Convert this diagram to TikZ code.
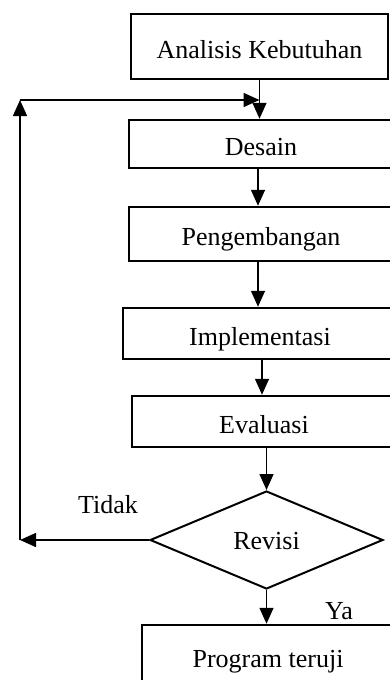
\documentclass[tikz,border=0pt]{standalone}
\usepackage{fontspec}
\setmainfont{Liberation Serif}
\usetikzlibrary{shapes.geometric,arrows.meta}
\begin{document}
\begin{tikzpicture}[x=1pt,y=-1pt,
  txt/.style={font=\fontsize{26}{30}\selectfont},
  box/.style={txt,draw,rectangle,line width=2.5pt,inner sep=0pt,text height=24pt,text depth=1pt},
  dia/.style={txt,draw,diamond,line width=2pt,inner sep=0pt,minimum width=233pt,minimum height=98pt,aspect=2.38,text height=20pt,text depth=1pt},
  lbl/.style={txt,inner sep=0pt,anchor=base},
  arr/.style={line width=1.5pt,-{Triangle[length=16pt,width=14pt]}}
]
\useasboundingbox (0,0) rectangle (390,680);
\clip (0,0) rectangle (390,680);
\fill[white] (0,0) rectangle (390,680);

\node[box,minimum width=257pt,minimum height=65pt] (a) at (259.5,46.5) {Analisis Kebutuhan};
\node[box,minimum width=264pt,minimum height=48pt] (d) at (261,144) {Desain};
\node[box,minimum width=264pt,minimum height=54pt] (p) at (261,234) {Pengembangan};
\node[box,minimum width=274pt,minimum height=51pt] (i) at (260,333.5) {Implementasi};
\node[box,minimum width=264pt,minimum height=51pt] (e) at (264,421.5) {Evaluasi};
\node[dia] (r) at (266.5,540) {Revisi};
\node[box,minimum width=252pt,minimum height=62pt] (t) at (268,656) {Program teruji};

\node[lbl] (tidak) at (108,513) {Tidak};
\node[lbl] (ya) at (339,619) {Ya};

\coordinate (bl) at (20,540);
\coordinate (tl) at (20,100);

\draw[arr] (a.south) -- (a.south |- d.north);
\draw[arr] ([xshift=-3pt]d.south) -- ([xshift=-3pt]d.south |- p.north);
\draw[arr] ([xshift=-3pt]p.south) -- ([xshift=-3pt]p.south |- i.north);
\draw[arr] ([xshift=2pt]i.south) -- ([xshift=2pt]i.south |- e.north);
\draw[arr] (e.south -| r.north) -- (r.north);
\draw[arr] (r.south) -- (r.south |- t.north);

\draw[arr] (r.west) -- (bl);
\draw[arr] (bl) -- (tl);
\draw[arr] (tl) -- (tl -| a.south);
\end{tikzpicture}
\end{document}
